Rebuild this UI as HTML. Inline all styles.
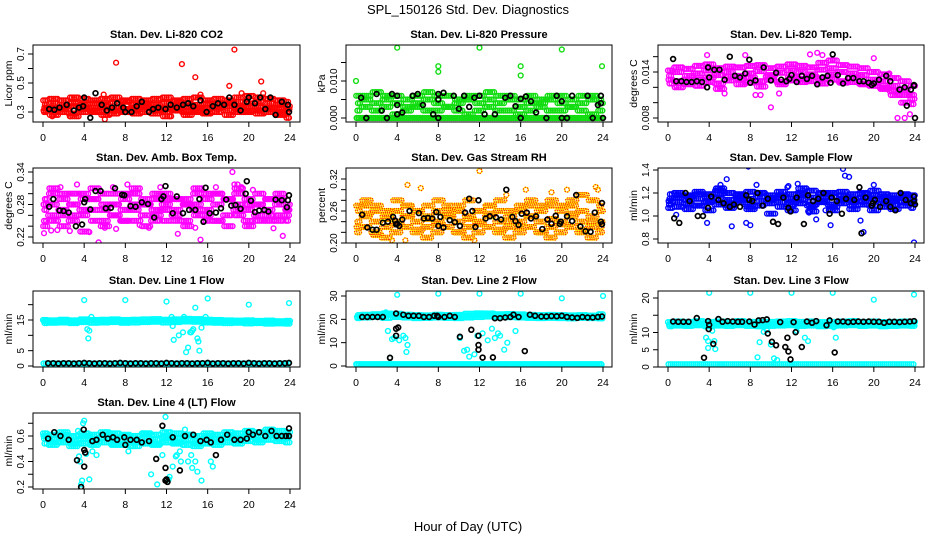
<!DOCTYPE html>
<html><head><meta charset="utf-8"><style>
html,body{margin:0;padding:0;background:#fff;}
svg{display:block;font-family:"Liberation Sans",sans-serif;}
</style></head><body>
<svg id="chart" width="936" height="540" viewBox="0 0 936 540" xmlns="http://www.w3.org/2000/svg">
<rect x="0" y="0" width="936" height="540" fill="#fff"/>
<text x="468" y="14" font-size="13" text-anchor="middle">SPL_150126  Std. Dev. Diagnostics</text>
<text x="468" y="531" font-size="13" text-anchor="middle">Hour of Day (UTC)</text>
</svg>
<script>
// ---- shared categories ----
const hourTicks = [0,4,8,12,16,20,24];

// ---- P1 CO2 ----
const co2Row1=[0.30,0.31,0.30,0.29,0.30,0.31,0.30,0.29,0.30,0.31,0.30,0.29,0.30,0.31,0.30,0.30,0.29,0.30,0.31,0.30,0.30,0.31,0.30,0.29,0.30];
const co2Row2=[0.33,0.32,0.33,0.34,0.32,0.33,0.34,0.33,0.32,0.33,0.34,0.33,0.32,0.33,0.34,0.33,0.32,0.33,0.34,0.33,0.34,0.33,0.32,0.33,0.32];
const co2Row3=[0.35,0.36,0.35,0.36,0.35,0.36,0.35,0.36,0.37,0.35,0.36,0.35,0.36,0.37,0.36,0.35,0.36,0.35,0.36,0.37,0.36,0.37,0.36,0.35,0.34];
const co2Row4=[0.38,0.39,0.38,0.40,0.39,0.38,0.39,0.40,0.38,0.39,0.38,0.39,0.40,0.38,0.39,0.40,0.38,0.39,0.38,0.40,0.41,0.40,0.39,0.38,0.37];
const co2Row5=[0.31,0.28,0.32,0.27,0.33,0.30,0.28,0.31,0.32,0.29,0.33,0.31,0.27,0.32,0.28,0.31,0.30,0.33,0.28,0.32,0.31,0.29,0.33,0.28,0.26];
const co2OutH=[7.1,13.5,14.8,18.6,21.2,18.1,5.9,15.3,19.3,21.4,0.9,2.6,6.0,12.3,23.9];
const co2OutV=[0.64,0.63,0.54,0.73,0.51,0.48,0.42,0.42,0.43,0.43,0.27,0.27,0.25,0.27,0.26];
const co2BlkH=[0.6,1.1,1.6,2.3,3,3.5,3.9,4,4.6,5.1,5.7,6.2,6.7,7.2,7.8,8,8.6,9.1,9.6,10.3,10.7,11.2,11.9,12.4,13,13.6,14.1,14.6,15.3,15.9,16.5,17,17.6,18.1,18.6,19.2,19.8,20,20.6,21.1,21.6,22.1,22.6,23.2,23.8,23.9];
const co2BlkV=[0.32,0.315,0.33,0.35,0.31,0.33,0.34,0.40,0.26,0.43,0.35,0.31,0.33,0.36,0.33,0.30,0.30,0.34,0.37,0.30,0.32,0.33,0.32,0.35,0.33,0.35,0.36,0.34,0.38,0.30,0.34,0.36,0.35,0.40,0.35,0.31,0.37,0.40,0.36,0.40,0.32,0.40,0.28,0.37,0.35,0.30];

// ---- P2 Pressure ----
const prRow1=[0,0,0,0,0,0,0,0,0,0,0,0,0,0,0,0,0,0,0,0,0,0,0,0,0];
const prRow2=[0.002,0.003,0.002,0.003,0.001,0.002,0.003,0.002,0.002,0.003,0.002,0.001,0.002,0.003,0.002,0.002,0.001,0.002,0.003,0.002,0.002,0.003,0.002,0.001,0.002];
const prRow3=[0.004,0.005,0.004,0.005,0.004,0.003,0.004,0.005,0.004,0.003,0.004,0.005,0.004,0.005,0.004,0.005,0.003,0.004,0.004,0.005,0.004,0.003,0.004,0.005,0.004];
const prRow4=[0.006,0.006,0.007,0.006,0.006,0.005,0.006,0.007,0.006,0.006,0.005,0.006,0.006,0.007,0.006,0.006,0.005,0.006,0.005,0.006,0.006,0.005,0.006,0.006,0.005];
const prRow5=[0,0,0,0,0,0,0,0,0,0,0,0,0,0,0,0,0,0,0,0,0,0,0,0,0];
const prOutH=[0,4,8,8,12,16,16,20,23.9];
const prOutV=[0.010,0.019,0.014,0.0125,0.019,0.014,0.0115,0.0185,0.014];
const prBlkH=[0.5,1,2,2.5,3,3.5,4,4,4,4.5,5.5,6,6.5,7.5,8,8,8,8.5,9.5,10,10.5,11,11.5,12,12.5,13.5,14.5,15,15.5,16,16,16.5,17,17.5,18.5,19.5,20,20,20.5,21,22.5,23,23.5,23.8,23.8,24];
const prBlkV=[0.0055,0,0.0065,0.002,0,0.0065,0.006,0.0035,0.001,0.0015,0.006,0.0065,0.0035,0.001,0.0065,0.005,0,0.0068,0.006,0.0025,0.006,0.003,0.0055,0.006,0.001,0.001,0.0055,0.006,0.0032,0.0052,0,0.0058,0.0045,0.0015,0,0.006,0.0045,0,0,0.006,0.006,0,0.0035,0.006,0.004,0];

// ---- P3 Li-820 Temp ----
const tmRow1=[0.0135,0.0140,0.0130,0.0138,0.0142,0.0136,0.0140,0.0135,0.0138,0.0141,0.0134,0.0139,0.0142,0.0140,0.0137,0.0143,0.0145,0.0140,0.0138,0.0136,0.0130,0.0128,0.0122,0.0118,0.0110];
const tmRow2=[0.0125,0.0128,0.0124,0.0130,0.0127,0.0125,0.0129,0.0131,0.0126,0.0128,0.0130,0.0127,0.0129,0.0131,0.0128,0.0132,0.0130,0.0128,0.0127,0.0125,0.0122,0.0120,0.0115,0.0110,0.0105];
const tmRow3=[0.0142,0.0146,0.0144,0.0148,0.0150,0.0145,0.0147,0.0146,0.0148,0.0149,0.0145,0.0147,0.0150,0.0148,0.0146,0.0152,0.0155,0.0149,0.0147,0.0145,0.0140,0.0137,0.0132,0.0128,0.0122];
const tmRow4=[0.0130,0.0120,0.0135,0.0122,0.0133,0.0118,0.0134,0.0124,0.0133,0.0121,0.0136,0.0124,0.0133,0.0127,0.0134,0.0125,0.0137,0.0126,0.0133,0.0124,0.0126,0.0118,0.0110,0.0100,0.0098];
const tmOutH=[0.8,3.8,5.5,7.5,8.5,9,10,10.8,13.8,14.5,15,16,22.3,23,23.5,20,21.5];
const tmOutV=[0.0122,0.0162,0.0112,0.0162,0.0110,0.0110,0.0094,0.0112,0.0163,0.0165,0.0162,0.0156,0.0080,0.0080,0.0085,0.0158,0.0138];
const tmBlkH=[0.5,0.8,1.3,1.8,2.3,2.8,3.3,3.8,3.9,4,4.5,5,5.5,6,6.5,7,7.5,7.9,8,8.5,9.3,10,10.5,11,11.5,11.8,12,12.5,13,13.5,14,14.5,15,15.5,15.8,16,16.5,17,17.5,18,18.6,19,19.5,19.8,20,20.5,21.2,21.6,22.5,23,23.2,23.6,23.9,23.9,24];
const tmBlkV=[0.0157,0.0128,0.0128,0.0127,0.0127,0.0128,0.0127,0.0120,0.0146,0.0133,0.0143,0.0143,0.0130,0.0160,0.0135,0.0133,0.0138,0.0156,0.0126,0.0129,0.0146,0.0129,0.0139,0.0130,0.0128,0.0131,0.0136,0.0127,0.0135,0.0131,0.0135,0.0124,0.0133,0.0135,0.0126,0.0163,0.0136,0.0125,0.0132,0.0132,0.0128,0.0128,0.0126,0.0123,0.0125,0.0130,0.0135,0.0128,0.0117,0.0120,0.0096,0.0117,0.0122,0.0123,0.0080];

// ---- P4 Amb Box Temp ----
const abRow1=[0.25,0.26,0.27,0.25,0.26,0.27,0.25,0.26,0.25,0.27,0.26,0.25,0.27,0.26,0.25,0.27,0.26,0.25,0.26,0.27,0.25,0.26,0.27,0.25,0.26];
const abRow2=[0.27,0.28,0.26,0.28,0.27,0.29,0.27,0.28,0.27,0.28,0.29,0.27,0.28,0.27,0.29,0.28,0.27,0.28,0.29,0.28,0.27,0.28,0.26,0.28,0.27];
const abRow3=[0.29,0.30,0.29,0.28,0.30,0.29,0.30,0.28,0.29,0.30,0.28,0.29,0.30,0.29,0.28,0.30,0.29,0.30,0.29,0.30,0.29,0.28,0.29,0.30,0.28];
const abRow4=[0.24,0.31,0.24,0.30,0.23,0.31,0.24,0.30,0.25,0.31,0.24,0.30,0.25,0.29,0.24,0.31,0.25,0.30,0.24,0.31,0.24,0.30,0.25,0.29,0.25];
const abRow5=[0.28,0.25,0.30,0.26,0.29,0.25,0.28,0.26,0.30,0.25,0.28,0.26,0.29,0.25,0.28,0.26,0.30,0.25,0.29,0.26,0.28,0.25,0.29,0.26,0.27];
const abOutH=[0.1,0.8,1.4,1.7,2.6,3.3,4.5,5.4,6,6.8,7.1,8.2,9.4,10.3,11.4,13.1,14.8,15.3,16.8,18.4,18.6,18.9,19.3,20.4,22.4,23.3,0.2];
const abOutV=[0.227,0.232,0.233,0.312,0.231,0.317,0.229,0.21,0.237,0.312,0.235,0.317,0.242,0.237,0.312,0.226,0.237,0.215,0.312,0.34,0.317,0.317,0.312,0.307,0.236,0.222,0.29];
const abBlkH=[0.6,1,1.6,2,2.5,3.2,3.8,4,4.1,4.6,5.1,5.6,6.1,6.6,7,7.7,7.9,8.5,9,9.6,10.2,10.8,11.5,11.7,11.9,12.6,13,13.6,14.2,14.8,15.2,15.6,15.8,16.2,16.8,17.3,17.8,18.3,18.7,19.2,19.7,19.8,20.2,20.6,21,21.5,21.9,22.6,23.2,23.7,23.8,23.9];
const abBlkV=[0.276,0.29,0.269,0.268,0.265,0.24,0.243,0.284,0.29,0.271,0.305,0.305,0.273,0.274,0.31,0.298,0.297,0.277,0.276,0.284,0.281,0.256,0.29,0.295,0.314,0.264,0.295,0.264,0.27,0.27,0.29,0.248,0.311,0.264,0.265,0.273,0.289,0.278,0.279,0.272,0.3,0.323,0.287,0.266,0.269,0.27,0.267,0.289,0.288,0.275,0.288,0.297];

// ---- P5 Gas Stream RH ----
const rhRow1=[0.22,0.23,0.22,0.21,0.22,0.23,0.22,0.21,0.22,0.23,0.22,0.21,0.22,0.23,0.22,0.21,0.22,0.23,0.22,0.21,0.22,0.23,0.22,0.21,0.22];
const rhRow2=[0.24,0.25,0.24,0.23,0.24,0.25,0.24,0.23,0.24,0.25,0.24,0.23,0.24,0.25,0.24,0.23,0.24,0.25,0.24,0.23,0.24,0.25,0.24,0.23,0.24];
const rhRow3=[0.26,0.27,0.26,0.25,0.26,0.27,0.26,0.25,0.26,0.27,0.26,0.25,0.26,0.27,0.26,0.25,0.26,0.27,0.26,0.27,0.26,0.27,0.26,0.25,0.26];
const rhRow4=[0.27,0.28,0.27,0.26,0.28,0.27,0.26,0.27,0.28,0.26,0.27,0.28,0.26,0.27,0.28,0.26,0.27,0.28,0.27,0.28,0.27,0.28,0.29,0.28,0.27];
const rhRow5=[0.23,0.255,0.215,0.245,0.235,0.25,0.225,0.245,0.235,0.25,0.22,0.245,0.235,0.255,0.225,0.24,0.23,0.25,0.22,0.245,0.235,0.255,0.225,0.24,0.23];
const rhOutH=[5,6.3,12,16.5,19,20.5,23.3,23.5,14.6,4.8,3.5,11.5];
const rhOutV=[0.309,0.303,0.335,0.3,0.295,0.3,0.305,0.30,0.29,0.205,0.205,0.205];
const rhBlkH=[0.6,1.1,1.6,2,2.6,3.1,3.6,3.8,3.9,4,4.2,4.5,5.2,6.1,6.6,7,7.4,7.8,8,8.2,8.5,9.1,9.6,10.1,10.6,11,11.3,11.6,11.9,12.6,13,13.6,14.1,14.6,15.2,15.5,15.8,16.1,16.6,17,17.5,18.1,18.6,19,19.4,19.8,19.9,20.5,21,21.4,21.8,22.3,22.8,23.2,23.8,23.9,23.9];
const rhBlkV=[0.253,0.229,0.225,0.225,0.238,0.24,0.249,0.242,0.235,0.236,0.232,0.244,0.26,0.256,0.246,0.247,0.246,0.258,0.232,0.249,0.229,0.243,0.239,0.232,0.257,0.283,0.26,0.23,0.28,0.246,0.25,0.248,0.244,0.30,0.249,0.241,0.234,0.255,0.257,0.246,0.25,0.226,0.244,0.236,0.251,0.236,0.24,0.25,0.241,0.29,0.231,0.222,0.221,0.257,0.24,0.235,0.275];

// ---- P6 Sample Flow ----
const sfRow1=[1.10,1.12,1.11,1.09,1.12,1.10,1.11,1.12,1.10,1.09,1.11,1.12,1.10,1.11,1.09,1.12,1.10,1.11,1.12,1.10,1.09,1.11,1.10,1.12,1.11];
const sfRow2=[1.15,1.16,1.14,1.15,1.17,1.15,1.14,1.16,1.15,1.17,1.14,1.16,1.15,1.14,1.16,1.15,1.17,1.15,1.14,1.16,1.15,1.14,1.15,1.16,1.14];
const sfRow3=[1.19,1.20,1.18,1.21,1.19,1.22,1.20,1.19,1.21,1.20,1.18,1.21,1.19,1.20,1.22,1.19,1.20,1.21,1.19,1.20,1.18,1.19,1.18,1.19,1.18];
const sfRow4=[1.07,1.18,1.06,1.19,1.05,1.20,1.07,1.18,1.06,1.20,1.02,1.18,1.05,1.19,1.04,1.20,1.05,1.18,1.06,1.19,1.05,1.17,1.06,1.18,1.07];
const sfRow5=[1.13,1.08,1.17,1.09,1.13,1.24,1.09,1.14,1.08,1.13,1.16,1.08,1.12,1.24,1.10,1.13,1.08,1.14,1.09,1.13,1.22,1.08,1.13,1.09,1.12];
const sfOutH=[0.8,3.8,5.7,6.2,7.8,7.6,8,9.7,11.6,12.6,13.7,15.3,15.8,17,17.2,17.6,19,20,23.9,5.1,8.6,18.7,11.7,14.4];
const sfOutV=[1.01,0.94,1.32,0.91,1.43,0.94,0.92,1.15,1.25,1.28,1.03,1.05,0.92,1.41,1.35,1.34,0.86,1.27,0.77,1.27,1.27,0.96,1.26,0.97];
const sfBlkH=[0.6,1.1,1.7,2.1,2.9,3.4,3.9,4.2,4.9,5.4,6,6.4,7,7.6,7.9,8.2,8.7,9.2,9.7,10.2,10.7,11.2,11.7,11.9,12.5,13.2,13.6,14.1,14.6,15.1,15.7,15.9,16.4,16.9,17.3,18.1,18.6,18.8,19.2,19.8,19.9,20.1,20.6,21.2,21.6,22.1,22.6,23.1,23.6,23.9,23.9,24];
const sfBlkV=[0.98,0.94,1.2,1.13,1.0,1.0,1.07,1.17,1.14,1.11,1.08,1.1,1.08,1.18,1.14,1.13,1.2,1.09,1.15,0.95,0.93,1.16,1.07,1.04,1.16,0.93,1.18,1.13,1.15,1.2,1.02,1.16,1.13,1.02,1.15,1.14,1.25,0.85,1.16,1.09,1.11,1.14,1.08,1.13,1.08,1.05,1.2,1.14,1.11,1.17,1.13,1.10];

// ---- P7 Line 1 Flow ----
const l1Row1=[14.6,14.5,14.7,14.4,14.6,14.8,14.5,14.7,14.6,14.8,14.5,14.7,14.9,14.6,14.8,15.0,14.7,14.5,14.6,14.4,14.5,14.3,14.4,14.2,14.3];
const l1Row2=[14.0,14.1,14.2,14.0,14.3,14.1,14.2,14.3,14.1,14.2,14.3,14.4,14.2,14.3,14.5,14.4,14.2,14.1,14.0,14.1,13.9,14.0,13.8,13.9,13.8];
const l1Row3=[15.0,14.9,15.1,14.9,15.2,15.0,15.1,15.2,15.0,15.1,15.2,15.3,15.1,15.2,15.4,15.3,15.1,15.0,14.9,14.8,14.9,14.7,14.8,14.6,14.7];
const l1Row4=[0.8,0.8,0.8,0.8,0.8,0.8,0.8,0.8,0.8,0.8,0.8,0.8,0.8,0.8,0.8,0.8,0.8,0.8,0.8,0.8,0.8,0.8,0.8,0.8,0.8];
const l1OutH=[4,8,12,16,20,23.9,4.3,4.5,4.4,4.7,12.7,13.2,13.6,13.9,14.1,14.3,14.5,14.8,15,15.1,15.2,15.4,15.8,13.7,12.5,12.6,14.4,14.6];
const l1OutV=[21.5,21.5,21,22,20,20.5,12,11.5,9,16,8.5,10,11,4.5,6,11,11.5,19,9,8,5,12.5,16,16,16,13,11,12];
const l1BlkH=[0.5,1,1.5,2,2.5,3,3.5,4,4.5,5,5.5,6,6.5,7,7.5,8,8.5,9,9.5,10,10.5,11,11.5,12,12.5,13,13.5,14,14.5,15,15.5,16,16.5,17,17.5,18,18.5,19,19.5,20,20.5,21,21.5,22,22.5,23,23.5,23.9];
const l1BlkV=[0.9,0.9,0.8,0.9,0.9,0.8,0.9,1.0,0.9,0.8,0.9,0.9,0.8,0.9,1.0,0.9,0.8,0.9,0.9,0.8,0.9,0.9,0.8,1.0,0.9,0.8,0.9,0.9,0.8,0.9,0.9,1.0,0.8,0.9,0.9,0.8,0.9,0.9,0.8,1.0,0.9,0.8,0.9,0.9,0.8,0.9,0.9,1.0];

// ---- P8 Line 2 Flow ----
const l2Row1=[21.0,21.2,21.5,22,21.8,21.5,21.2,21,21.4,21,21.2,21.5,21.8,22,21.6,21.8,21.5,21.2,21,21.3,21.2,21,21.2,21,21];
const l2Row2=[20.5,20.8,21,20.6,21,20.8,20.5,20.6,20.8,20.6,20.5,20.8,21,21.2,21,20.9,20.8,20.6,20.5,20.6,20.5,20.4,20.6,20.5,20.4];
const l2Row3=[21.8,22,22.2,22.5,22.4,22,21.8,21.7,22,21.8,21.9,22.4,22.6,22.5,22.2,22.3,22.1,21.9,21.8,21.9,21.8,21.7,21.8,21.6,22.2];
const l2Row4=[0.8,0.8,0.8,0.8,0.8,0.8,0.8,0.8,0.8,0.8,0.8,0.8,0.8,0.8,0.8,0.8,0.8,0.8,0.8,0.8,0.8,0.8,0.8,0.8,0.8];
const l2Row5=[0.6,0.6,0.6,0.6,0.6,0.6,0.6,0.6,0.6,0.6,0.6,0.6,0.6,0.6,0.6,0.6,0.6,0.6,0.6,0.6,0.6,0.6,0.6,0.6,0.6];
const l2OutH=[4,8,12,16,20,24,3.1,3.5,3.7,4.2,4.6,4.8,4.9,5,10.1,10.5,10.8,11,11.5,11.8,12.3,12.8,13.2,13.5,13.8,14,14.4,14.7,15.5,3.3,2.9];
const l2OutV=[30.5,31,31,31,29,30,15,11.5,12,11,13,12,6,9,12,6.5,7,4,5,13,14,11,16,12,14,13,7,10,15,3.5,23];
const l2BlkH=[0.6,1.1,1.6,2.1,2.6,3.3,3.9,3.9,3.9,4.1,4.6,5.1,5.6,6.1,6.6,7.1,7.6,7.9,8,8.6,9.1,9.6,10.1,11.2,11.9,11.9,11.9,12.3,13.3,13.5,14,14.5,15,15.3,15.8,16.4,16.9,17.4,18,18.5,19,19.5,20,20.5,21,21.5,22,22.5,23,23.5,23.9];
const l2BlkV=[21,21,21,21,21,3.5,22.5,16,13,16.5,22,21.5,21.5,21.5,21,21,21.5,21.5,21,21,21.5,21,12.5,15.5,13,9,7,3.6,3.7,20.5,20.5,20.8,21,22,21,6.4,22,21.5,21.2,21.2,21.4,21.3,21.5,21,20.8,20.6,21,20.8,20.8,21,21.2];

// ---- P9 Line 3 Flow ----
const l3Row1=[12.3,12.5,12.4,12.6,12.3,12.5,12.4,12.6,12.5,12.3,12.4,12.5,12.6,12.4,12.5,12.3,12.4,12.5,12.6,12.4,12.5,12.3,12.4,12.5,12.4];
const l3Row2=[11.8,12,11.9,12.1,11.8,12,11.9,12.1,11.9,11.8,11.9,12,12.1,11.9,12,11.8,11.9,12,12.1,11.9,12,11.8,11.9,12,11.9];
const l3Row3=[13,13.2,13.1,13.3,13,13.2,13.1,13.3,13.1,13,13.1,13.2,13.3,13.1,13.2,13,13.1,13.2,13.3,13.1,13.2,13,13.1,13.2,13.1];
const l3Row4=[0.8,0.8,0.8,0.8,0.8,0.8,0.8,0.8,0.8,0.8,0.8,0.8,0.8,0.8,0.8,0.8,0.8,0.8,0.8,0.8,0.8,0.8,0.8,0.8,0.8];
const l3OutH=[4,8,12,16,20,23.9,3.7,3.9,4.3,4.5,4.6,8.7,8.9,9.3,9.6,10,10.3,10.6,12.5,13.3,13.6,16.3,16.1,3.9];
const l3OutV=[21.5,21.5,21.5,21.5,19.5,21,8.5,5.5,10.5,7.5,5.2,2.8,7.2,10.2,10.7,6.5,2.5,2,10.5,8.5,7.5,8.5,11.5,7.5];
const l3BlkH=[0.5,1,1.5,2,2.8,3.5,3.9,3.95,4,4.4,4.9,5.3,5.8,6.3,6.8,7.2,7.9,8.4,8.8,9.2,9.7,9.6,10.1,10.5,10.9,11.4,11.6,11.7,11.9,12.2,12.4,13,13.5,14,14.4,15.4,15.7,16.2,16.5,17,17.5,18,18.5,19,19.5,20,20.5,21,21.5,22,22.5,23,23.5,23.9];
const l3BlkV=[13.2,13.1,13.1,13.1,14.2,2.7,13.3,11,12.2,6.7,13.9,13.1,13.3,13.2,13.1,13.1,13.2,12.3,13.5,13.6,9.7,13.8,7.3,6.3,13,5.8,8.5,4.5,2.2,13,10.1,5.8,13.2,12.8,13.3,12.1,13.5,4.2,13.2,13.2,13,13.1,13.2,13.1,13.2,13.1,13.1,12.8,13.1,13.1,13,13.1,13.2,13.3];

// ---- P10 Line 4 (LT) Flow ----
const l4Row1=[0.58,0.57,0.59,0.56,0.58,0.57,0.59,0.58,0.57,0.56,0.58,0.57,0.59,0.58,0.57,0.56,0.58,0.57,0.59,0.58,0.60,0.59,0.61,0.60,0.59];
const l4Row2=[0.54,0.53,0.55,0.52,0.54,0.53,0.55,0.54,0.53,0.52,0.54,0.53,0.55,0.54,0.53,0.52,0.54,0.53,0.55,0.54,0.56,0.55,0.57,0.56,0.55];
const l4Row3=[0.62,0.61,0.63,0.60,0.62,0.61,0.63,0.62,0.61,0.60,0.62,0.61,0.63,0.62,0.61,0.60,0.62,0.61,0.63,0.62,0.64,0.63,0.65,0.64,0.63];
const l4Row4=[0.60,0.55,0.61,0.54,0.60,0.55,0.61,0.53,0.60,0.55,0.62,0.54,0.60,0.55,0.61,0.54,0.60,0.55,0.61,0.56,0.62,0.57,0.63,0.58,0.61];
const l4OutH=[3.6,3.8,4,3.7,4.2,4.5,4.8,5.2,6.1,8.3,10.5,11.1,11.6,11.9,12,12.3,12.6,13,13.4,13.8,14.1,14.5,15,15.4,16.3,16.5,3.4,3.5,3.9,12.2,12.9,13.3,14.4,14.8];
const l4OutV=[0.40,0.25,0.72,0.22,0.46,0.26,0.48,0.45,0.63,0.48,0.30,0.22,0.45,0.75,0.62,0.28,0.36,0.45,0.40,0.65,0.40,0.35,0.32,0.25,0.40,0.36,0.64,0.44,0.70,0.26,0.44,0.48,0.45,0.40];
const l4BlkH=[0.5,1.1,1.7,2.5,3.3,3.7,3.95,4,4.1,4,4.8,5.2,5.8,6.3,6.8,7.2,7.9,8,8.5,9.1,9.6,10.3,11,11.6,11.9,12,12.1,11.9,12.6,13.3,13.8,14.6,15.3,15.9,16.3,16.8,17.3,17.9,18.6,19.2,19.8,20,20.4,21,21.6,22.2,22.7,23.2,23.6,23.9,23.9];
const l4BlkV=[0.58,0.63,0.60,0.57,0.41,0.20,0.65,0.49,0.47,0.36,0.56,0.57,0.61,0.58,0.59,0.57,0.59,0.53,0.57,0.57,0.55,0.56,0.42,0.68,0.35,0.26,0.24,0.25,0.59,0.33,0.60,0.61,0.56,0.57,0.55,0.45,0.57,0.61,0.57,0.57,0.58,0.63,0.61,0.63,0.60,0.64,0.60,0.60,0.60,0.66,0.60];

const SVGNS="http://www.w3.org/2000/svg";
const svg=document.getElementById('chart');
function mk(tag,attrs,parent){const e=document.createElementNS(SVGNS,tag);for(const k in attrs)e.setAttribute(k,attrs[k]);(parent||svg).appendChild(e);return e;}

const cols=[{l:33,r:300,x0:43},{l:346,r:612,x0:356},{l:658,r:924,x0:668}];
const rowsG=[{t:45,b:122},{t:168,b:243},{t:291,b:367},{t:413,b:489}];
const hourScale=247/24;
const binSteps=5; // each hourly band value is drawn across its hour bin

function panel(p){
  const c=cols[p.col], r=rowsG[p.row];
  const g=mk('g',{});
  
  
  const xS=h=>c.x0+h*hourScale;
  const yS=v=>p.py0+(v-p.v0)*(p.py1-p.py0)/(p.v1-p.v0);
  const clip='clip-'+p.name;
  const cp=mk('clipPath',{id:clip},g);
  mk('rect',{x:c.l,y:r.t,width:c.r-c.l,height:r.b-r.t},cp);
  const pts=mk('g',{'clip-path':'url(#'+clip+')'},g);
  const drawPt=(h,v,stroke,sw,name,extra)=>{
    const e=mk('circle',{cx:xS(h).toFixed(1),cy:yS(v).toFixed(1),r:2.4,fill:'none',stroke:stroke,'stroke-width':sw},pts);
    
    
    if(extra){const d=mk('circle',{cx:xS(h).toFixed(1),cy:yS(v).toFixed(1),r:2.4,fill:'none',stroke:extra,'stroke-width':sw,'stroke-dasharray':'1 1.5'},pts);
      
      }
  };
  p.bands.forEach((arr,k)=>{
    const off=k*(1/(p.bands.length*binSteps));
    arr.forEach((v,i)=>{
      for(let j=0;j<binSteps;j++){
        const h=i-0.5+off+j/binSteps;
        if(h<0||h>24)continue;
        drawPt(h,v,p.color,1.4,p.name+'-point',p.dot);
      }
    });
  });
  p.outH.forEach((h,i)=>drawPt(h,p.outV[i],p.color,1.4,p.name+'-outlier',p.dot));
  const n=Math.min(p.blkH.length,p.blkV.length);
  for(let i=0;i<n;i++)drawPt(p.blkH[i],p.blkV[i],'#000',1.7,p.name+'-hourly-point');
  const box=mk('rect',{x:c.l,y:r.t,width:c.r-c.l,height:r.b-r.t,fill:'none',stroke:'#000','stroke-width':1},g);
  
  
  const t=mk('text',{x:(c.l+c.r)/2,y:r.t-7,'font-size':11,'font-weight':'bold','text-anchor':'middle'},g);
  t.textContent=p.title;
  
  
  hourTicks.forEach(h=>{
    const x=xS(h);
    const tk=mk('line',{x1:x,x2:x,y1:r.b,y2:r.b+5,stroke:'#000','stroke-width':1},g);
    
    
    const lb=mk('text',{x:x,y:r.b+19,'font-size':10.5,'text-anchor':'middle'},g);
    lb.textContent=String(h);
    
    
  });
  p.yTicks.forEach(v=>{
    const y=yS(v);
    const tk=mk('line',{x1:c.l-5,x2:c.l,y1:y,y2:y,stroke:'#000','stroke-width':1},g);
    
    
  });
  p.yLabels.forEach(s=>{
    const y=yS(parseFloat(s));
    const lb=mk('text',{x:0,y:0,'font-size':10,'text-anchor':'middle',transform:'translate('+(c.l-9)+','+y.toFixed(1)+') rotate(-90)'},g);
    lb.textContent=s;
    
    
  });
  const yt=mk('text',{x:0,y:0,'font-size':10.5,'text-anchor':'middle',transform:'translate('+(c.l-21)+','+((r.t+r.b)/2)+') rotate(-90)'},g);
  yt.textContent=p.ylab;
  
  
}

panel({name:'co2',col:0,row:0,title:'Stan. Dev. Li-820 CO2',ylab:'Licor ppm',color:'#ff0000',v0:0.3,py0:112,v1:0.7,py1:54,
  yTicks:[0.3,0.4,0.5,0.6,0.7],yLabels:['0.3','0.5','0.7'],bands:[co2Row1,co2Row2,co2Row3,co2Row4,co2Row5],outH:co2OutH,outV:co2OutV,blkH:co2BlkH,blkV:co2BlkV});
panel({name:'pressure',col:1,row:0,title:'Stan. Dev. Li-820 Pressure',ylab:'kPa',color:'#11dd11',v0:0,py0:118,v1:0.010,py1:81,
  yTicks:[0,0.005,0.010,0.015],yLabels:['0.000','0.010'],bands:[prRow1,prRow2,prRow3,prRow4,prRow5],outH:prOutH,outV:prOutV,blkH:prBlkH,blkV:prBlkV});
panel({name:'li820-temp',col:2,row:0,title:'Stan. Dev. Li-820 Temp.',ylab:'degrees C',color:'#ff00ff',v0:0.008,py0:118,v1:0.014,py1:72,
  yTicks:[0.008,0.010,0.012,0.014,0.016],yLabels:['0.008','0.014'],bands:[tmRow1,tmRow2,tmRow3,tmRow4],outH:tmOutH,outV:tmOutV,blkH:tmBlkH,blkV:tmBlkV});
panel({name:'amb-box-temp',col:0,row:1,title:'Stan. Dev. Amb. Box Temp.',ylab:'degrees C',color:'#ff00ff',v0:0.22,py0:237,v1:0.34,py1:172,
  yTicks:[0.22,0.24,0.26,0.28,0.30,0.32,0.34],yLabels:['0.22','0.28','0.34'],bands:[abRow1,abRow2,abRow3,abRow4,abRow5],outH:abOutH,outV:abOutV,blkH:abBlkH,blkV:abBlkV});
panel({name:'gas-stream-rh',col:1,row:1,title:'Stan. Dev. Gas Stream RH',ylab:'percent',color:'#ffee00',dot:'#ff2000',v0:0.20,py0:243,v1:0.32,py1:179,
  yTicks:[0.20,0.22,0.24,0.26,0.28,0.30,0.32],yLabels:['0.20','0.26','0.32'],bands:[rhRow1,rhRow2,rhRow3,rhRow4,rhRow5],outH:rhOutH,outV:rhOutV,blkH:rhBlkH,blkV:rhBlkV});
panel({name:'sample-flow',col:2,row:1,title:'Stan. Dev. Sample Flow',ylab:'ml/min',color:'#0000ff',v0:0.8,py0:239,v1:1.4,py1:170,
  yTicks:[0.8,1.0,1.2,1.4],yLabels:['0.8','1.0','1.2','1.4'],bands:[sfRow1,sfRow2,sfRow3,sfRow4,sfRow5],outH:sfOutH,outV:sfOutV,blkH:sfBlkH,blkV:sfBlkV});
panel({name:'line1-flow',col:0,row:2,title:'Stan. Dev. Line 1 Flow',ylab:'ml/min',color:'#00ffff',v0:0,py0:366,v1:15,py1:320,
  yTicks:[0,5,10,15,20],yLabels:['0','5','15'],bands:[l1Row1,l1Row2,l1Row3,l1Row4],outH:l1OutH,outV:l1OutV,blkH:l1BlkH,blkV:l1BlkV});
panel({name:'line2-flow',col:1,row:2,title:'Stan. Dev. Line 2 Flow',ylab:'ml/min',color:'#00ffff',v0:0,py0:366,v1:30,py1:296,
  yTicks:[0,10,20,30],yLabels:['0','10','20','30'],bands:[l2Row1,l2Row2,l2Row3,l2Row4,l2Row5],outH:l2OutH,outV:l2OutV,blkH:l2BlkH,blkV:l2BlkV});
panel({name:'line3-flow',col:2,row:2,title:'Stan. Dev. Line 3 Flow',ylab:'ml/min',color:'#00ffff',v0:0,py0:367,v1:20,py1:298,
  yTicks:[0,5,10,15,20],yLabels:['0','5','10','20'],bands:[l3Row1,l3Row2,l3Row3,l3Row4],outH:l3OutH,outV:l3OutV,blkH:l3BlkH,blkV:l3BlkV});
panel({name:'line4-lt-flow',col:0,row:3,title:'Stan. Dev. Line 4 (LT) Flow',ylab:'ml/min',color:'#00ffff',v0:0.2,py0:487,v1:0.6,py1:436,
  yTicks:[0.2,0.3,0.4,0.5,0.6,0.7],yLabels:['0.2','0.4','0.6'],bands:[l4Row1,l4Row2,l4Row3,l4Row4],outH:l4OutH,outV:l4OutV,blkH:l4BlkH,blkV:l4BlkV});
</script>
</body></html>
